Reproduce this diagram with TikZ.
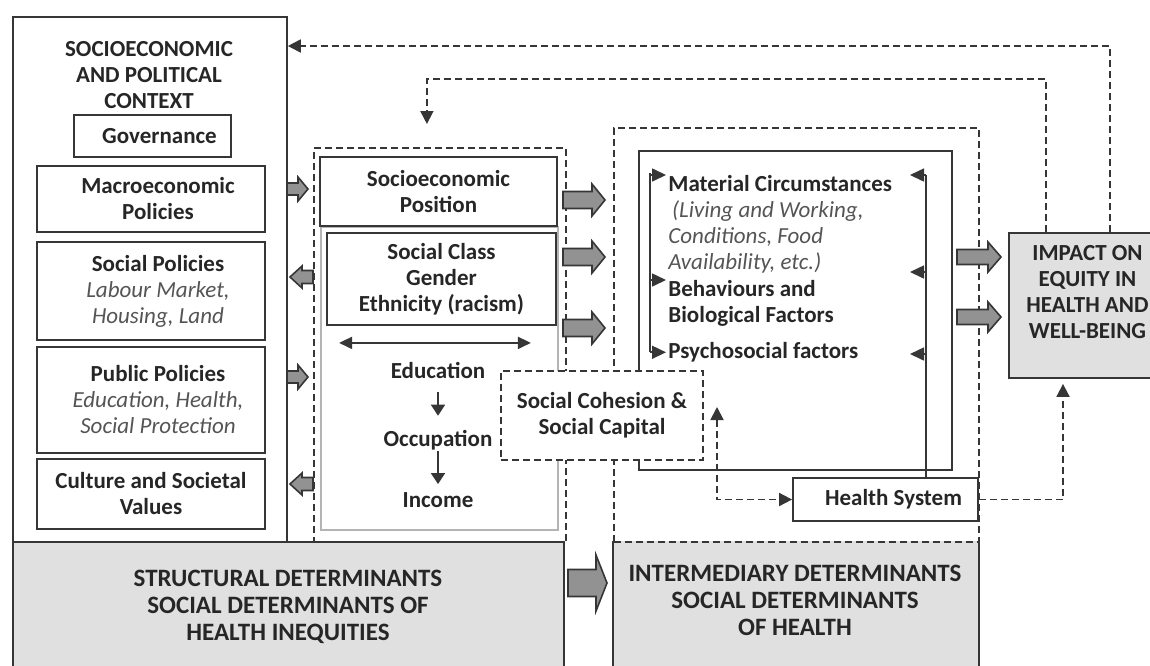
\documentclass[tikz,border=0pt]{standalone}
\usepackage{fontspec}
\setmainfont{Carlito}
\usetikzlibrary{arrows.meta,positioning,calc}
\definecolor{ink}{HTML}{262626}
\definecolor{edge}{HTML}{363636}
\definecolor{note}{HTML}{555555}
\definecolor{band}{HTML}{E0E0E0}
\definecolor{fatc}{HTML}{929292}
\definecolor{pale}{HTML}{B4B4B4}
\tikzset{
  box/.style={draw=edge, line width=0.9pt, fill=white, inner sep=0pt},
  lbl/.style={text=ink, align=center, inner sep=0pt, font=\bfseries\fontsize{11.5}{13}\selectfont},
  bandbox/.style={fill=band, inner sep=0pt},
  bandtxt/.style={text=ink, align=center, inner sep=0pt, font=\bfseries\fontsize{12.5}{13.5}\selectfont},
  frame/.style={draw=edge, line width=0.9pt, dash pattern=on 3.5pt off 2pt, inner sep=0pt},
  fb/.style={draw=edge, line width=0.9pt, dash pattern=on 3.5pt off 2pt, -{Triangle[length=6.5pt,width=6.5pt]}},
  link/.style={draw=edge, line width=0.9pt, -{Triangle[length=5.5pt,width=7pt]}},
  stub/.style={draw=edge, line width=0.8pt, -{Triangle[length=7pt,width=6.5pt]}},
  fat/.style={fill=fatc, draw=edge, line width=0.8pt},
}
\newcommand{\itl}[1]{{\mdseries\itshape\color{note}#1}}
% tail x, head base x, tip x, y, shaft half, head half
\newcommand{\fatarrow}[6]{%
  \draw[fat] ({#1},{#4-#5}) -- ({#2},{#4-#5}) -- ({#2},{#4-#6}) -- ({#3},{#4})
    -- ({#2},{#4+#6}) -- ({#2},{#4+#5}) -- ({#1},{#4+#5}) -- cycle;}

\begin{document}
\begin{tikzpicture}[x=0.5pt, y=-0.5pt]
  \useasboundingbox (0,0) rectangle (1150,665);
  \clip (0,0) rectangle (1150,665);

  % grey bands at the bottom
  \node[bandbox, draw=edge, line width=0.9pt, minimum width=275.5pt, minimum height=70pt, anchor=north west] (strb) at (12,541) {};
  \node[bandtxt] (strt) at (288,607) {STRUCTURAL DETERMINANTS\\SOCIAL DETERMINANTS OF\\HEALTH INEQUITIES};
  \node[bandbox, minimum width=182.5pt, minimum height=70pt, anchor=north west] (intb) at (613,541) {};
  \draw[edge, line width=0.9pt] (intb.north west) -- (intb.south west) (intb.north east) -- (intb.south east);
  \node[bandtxt] (intt) at (795,600) {INTERMEDIARY DETERMINANTS\\SOCIAL DETERMINANTS\\OF HEALTH};
  \fatarrow{568}{596}{607}{583}{13.5}{28}

  % context column
  \node[box, fill=none, minimum width=137pt, minimum height=262.5pt, anchor=north west] (ctx) at (12,16) {};
  \node[lbl] (ctxt) at (149,75) {SOCIOECONOMIC\\AND POLITICAL\\CONTEXT};
  \node[box, minimum width=78.5pt, minimum height=21pt, label={[lbl,xshift=3.5pt]center:Governance}] (gov) at (152.5,136) {};
  \node[box, minimum width=114pt, minimum height=33pt, label={[lbl,xshift=3.5pt]center:Macroeconomic\\Policies}] (macro) at (151,199) {};
  \node[box, minimum width=114pt, minimum height=49pt, label={[lbl,xshift=3.5pt]center:Social Policies\\\itl{Labour Market,}\\\itl{Housing, Land}}] (socp) at (151,291) {};
  \node[box, minimum width=114pt, minimum height=53pt, label={[lbl,xshift=3.5pt]center:Public Policies\\\itl{Education, Health,}\\\itl{Social Protection}}] (pubp) at (151,400) {};
  \node[box, minimum width=114pt, minimum height=35pt, label={[lbl]center:Culture and Societal\\Values}] (cult) at (151,494) {};
  \fatarrow{287}{298}{308}{189}{6}{12}
  \fatarrow{313}{302}{290}{277}{6.5}{11}
  \fatarrow{287}{298}{308}{377}{6}{12}
  \fatarrow{313}{302}{290}{484}{6.5}{11}

  % socioeconomic position column
  \node[frame, minimum width=126pt, minimum height=197pt, anchor=north west] (smid) at (313,147) {};
  \node[draw=pale, line width=0.8pt, inner sep=0pt, minimum width=118.5pt, minimum height=151.5pt, anchor=north west] (ladder) at (320,226) {};
  \node[box, minimum width=118.5pt, minimum height=34.5pt, label={[lbl]center:Socioeconomic\\Position}] (sep) at (438.5,191.5) {};
  \node[box, minimum width=114.5pt, minimum height=46pt, label={[lbl]center:Social Class\\Gender\\Ethnicity (racism)}] (scg) at (441.5,279) {};
  \draw[link, {Triangle[length=6.5pt,width=6pt]}-{Triangle[length=6.5pt,width=6pt]}] ([xshift=6.5pt,yshift=-8.5pt]scg.south west) -- ([xshift=-13pt,yshift=-8.5pt]scg.south east);
  \node[lbl] (edu) at (438,370) {Education};
  \node[lbl] (occ) at (438,440) {Occupation};
  \node[lbl] (inc) at (438,500) {Income};
  \draw[link, shorten <=6.5pt, shorten >=7pt] (edu) -- (occ);
  \draw[link, shorten <=0.5pt, shorten >=4pt] (occ) -- (inc);
  \fatarrow{563}{592}{605}{200}{8.5}{16}
  \fatarrow{563}{592}{605}{257}{8.5}{16}
  \fatarrow{563}{592}{605}{328}{8.5}{16}

  % intermediary column
  \node[frame, minimum width=182.5pt, minimum height=207pt, anchor=north west] (sint) at (613,127) {};
  \node[box, fill=none, minimum width=156.5pt, minimum height=159.5pt, anchor=north west] (circ) at (638,150) {};
  \node[lbl, align=left, anchor=north west] (matc) at (668,175) {Material Circumstances\\\itl{\,(Living and Working,}\\\itl{Conditions, Food}\\\itl{Availability, etc.)}};
  \node[lbl, align=left, anchor=north west] (beh) at (668,280) {Behaviours and\\Biological Factors};
  \node[lbl, anchor=north west] (psy) at (668,342) {Psychosocial factors};
  \node[box, minimum width=92.5pt, minimum height=21.5pt, label={[lbl,xshift=4pt]center:Health System}] (hs) at (885.5,499.5) {};
  \coordinate (lnL) at (650,173);
  \coordinate (lnR) at (926,175);
  \draw[edge, line width=0.9pt] (lnL) -- (lnL |- psy.west);
  \draw[stub] (matc.north west -| lnL) -- ([xshift=-1pt]matc.north west);
  \draw[stub] (beh.north west -| lnL) -- ([xshift=-1pt]beh.north west);
  \draw[stub] (psy.west -| lnL) -- ([xshift=-1pt]psy.west);
  \draw[edge, line width=0.9pt] (lnR) -- (lnR |- hs.north);
  \foreach \yy in {175,272,354} \draw[stub] (926,\yy) -- (910,\yy);

  % social cohesion sits across both columns
  \node[frame, fill=white, minimum width=101pt, minimum height=44.5pt, label={[lbl]center:Social Cohesion \&\\Social Capital}] (coh) at (602,415.5) {};

  % outcome
  \node[box, fill=band, minimum width=78.5pt, minimum height=72.5pt, label={[lbl,yshift=6.5pt]center:IMPACT ON\\EQUITY IN\\HEALTH AND\\WELL-BEING}] (imp) at (1087.5,305.5) {};
  \fatarrow{957}{988}{1001}{257}{7.5}{15}
  \fatarrow{957}{988}{1001}{317}{7.5}{15}

  % feedback loops
  \draw[fb] ([xshift=11.25pt]imp.north) |- ([yshift=-15pt]ctx.north east);
  \draw[fb] ([xshift=-20.75pt]imp.north) -- ++(0,-153) -| ([xshift=-6.5pt,yshift=11.5pt]smid.north);
  \draw[fb] (hs.east) -| ([xshift=-12.25pt,yshift=-2.5pt]imp.south);
  \coordinate (hsup) at (717,407);
  \draw[fb, {Triangle[length=6.5pt,width=6.5pt]}-{Triangle[length=6.5pt,width=6.5pt]}] (hsup) |- (hs.west);
\end{tikzpicture}
\end{document}
